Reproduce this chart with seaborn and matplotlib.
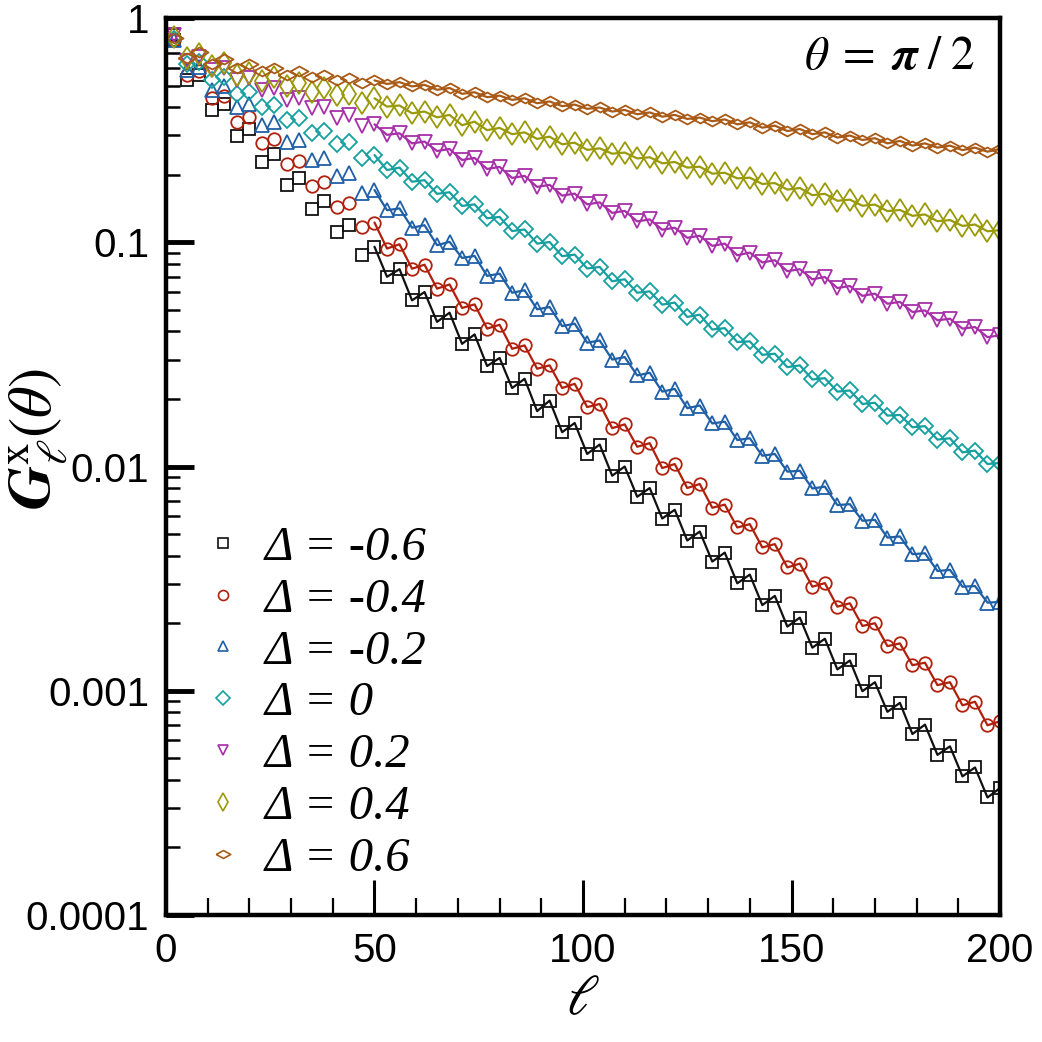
import numpy as np
import pandas as pd
import matplotlib
matplotlib.use('Agg')
import matplotlib.pyplot as plt
from matplotlib.lines import Line2D
from matplotlib.ticker import FixedLocator, MultipleLocator, LogLocator, NullFormatter
import seaborn as sns

# sampled subsystem sizes (every third site)
ell = np.arange(2, 201, 3)

# log10 of G, one list per anisotropy
log_g_m06 = [-0.10, -0.276, -0.256, -0.41, -0.384, -0.526, -0.496, -0.64, -0.605, -0.745, -0.712,
             -0.852, -0.817, -0.953, -0.921, -1.058, -1.02, -1.154, -1.12, -1.259, -1.222, -1.355,
             -1.314, -1.453, -1.411, -1.552, -1.516, -1.65, -1.609, -1.753, -1.706, -1.847, -1.806,
             -1.944, -1.902, -2.041, -2.0, -2.135, -2.096, -2.232, -2.193, -2.33, -2.29, -2.424,
             -2.384, -2.521, -2.482, -2.618, -2.577, -2.714, -2.674, -2.808, -2.768, -2.905, -2.865,
             -3.002, -2.962, -3.094, -3.054, -3.193, -3.151, -3.286, -3.248, -3.382, -3.342, -3.476,
             -3.434]
log_g_m04 = [-0.10, -0.253, -0.237, -0.358, -0.346, -0.462, -0.441, -0.559, -0.539, -0.653, -0.638,
             -0.749, -0.73, -0.842, -0.824, -0.931, -0.912, -1.028, -1.009, -1.118, -1.1, -1.207,
             -1.188, -1.293, -1.277, -1.385, -1.368, -1.475, -1.46, -1.564, -1.549, -1.65, -1.631,
             -1.735, -1.721, -1.829, -1.812, -1.912, -1.896, -2.007, -1.989, -2.096, -2.078, -2.184,
             -2.17, -2.272, -2.257, -2.361, -2.346, -2.45, -2.433, -2.536, -2.52, -2.625, -2.61,
             -2.711, -2.699, -2.801, -2.789, -2.886, -2.875, -2.975, -2.962, -3.065, -3.049, -3.154,
             -3.136]
log_g_m02 = [-0.10, -0.231, -0.22, -0.32, -0.305, -0.395, -0.384, -0.477, -0.465, -0.554, -0.544,
             -0.633, -0.623, -0.703, -0.693, -0.782, -0.767, -0.857, -0.849, -0.935, -0.924, -1.013,
             -0.998, -1.07, -1.061, -1.15, -1.14, -1.225, -1.214, -1.299, -1.289, -1.374, -1.363,
             -1.448, -1.438, -1.523, -1.512, -1.594, -1.582, -1.666, -1.654, -1.74, -1.728, -1.808,
             -1.8, -1.882, -1.874, -1.952, -1.944, -2.023, -2.019, -2.098, -2.09, -2.172, -2.168,
             -2.242, -2.238, -2.317, -2.312, -2.391, -2.387, -2.466, -2.461, -2.536, -2.533, -2.607,
             -2.604]
log_g_00 = [-0.095, -0.206, -0.194, -0.276, -0.265, -0.34, -0.328, -0.399, -0.387, -0.454, -0.447,
            -0.514, -0.506, -0.563, -0.554, -0.623, -0.611, -0.678, -0.667, -0.73, -0.723, -0.784,
            -0.777, -0.838, -0.831, -0.893, -0.887, -0.95, -0.943, -1.006, -0.999, -1.062, -1.055,
            -1.117, -1.11, -1.174, -1.165, -1.225, -1.219, -1.278, -1.269, -1.333, -1.323, -1.389,
            -1.383, -1.445, -1.442, -1.502, -1.497, -1.557, -1.549, -1.612, -1.606, -1.666, -1.661,
            -1.721, -1.716, -1.773, -1.77, -1.825, -1.82, -1.88, -1.874, -1.937, -1.929, -1.989,
            -1.984]
log_g_p02 = [-0.075, -0.19, -0.175, -0.231, -0.223, -0.276, -0.268, -0.32, -0.313, -0.365, -0.358,
             -0.402, -0.395, -0.444, -0.432, -0.48, -0.474, -0.521, -0.514, -0.559, -0.551, -0.593,
             -0.584, -0.633, -0.624, -0.673, -0.664, -0.713, -0.704, -0.753, -0.744, -0.792, -0.783,
             -0.831, -0.822, -0.869, -0.86, -0.907, -0.898, -0.944, -0.935, -0.98, -0.971, -1.016,
             -1.006, -1.058, -1.046, -1.09, -1.08, -1.129, -1.12, -1.165, -1.155, -1.204, -1.195,
             -1.239, -1.229, -1.274, -1.266, -1.311, -1.304, -1.348, -1.341, -1.385, -1.378, -1.423,
             -1.415]
log_g_p04 = [-0.085, -0.18, -0.16, -0.215, -0.2, -0.256, -0.246, -0.28, -0.265, -0.305, -0.29,
             -0.328, -0.313, -0.345, -0.34, -0.38, -0.358, -0.395, -0.39, -0.425, -0.417, -0.443,
             -0.432, -0.478, -0.462, -0.5, -0.49, -0.518, -0.51, -0.539, -0.529, -0.563, -0.556,
             -0.588, -0.581, -0.605, -0.6, -0.626, -0.621, -0.648, -0.642, -0.667, -0.663, -0.694,
             -0.69, -0.715, -0.712, -0.74, -0.736, -0.765, -0.758, -0.79, -0.784, -0.815, -0.81,
             -0.837, -0.832, -0.861, -0.856, -0.882, -0.876, -0.906, -0.901, -0.927, -0.921, -0.951,
             -0.946]
log_g_p06 = [-0.09, -0.179, -0.153, -0.206, -0.182, -0.223, -0.204, -0.238, -0.224, -0.253, -0.238,
             -0.265, -0.253, -0.275, -0.268, -0.29, -0.278, -0.294, -0.286, -0.305, -0.298, -0.32,
             -0.312, -0.338, -0.331, -0.353, -0.346, -0.365, -0.358, -0.38, -0.372, -0.393, -0.386,
             -0.405, -0.399, -0.417, -0.41, -0.429, -0.421, -0.44, -0.432, -0.45, -0.444, -0.46,
             -0.452, -0.474, -0.465, -0.489, -0.48, -0.504, -0.495, -0.518, -0.51, -0.533, -0.524,
             -0.544, -0.536, -0.559, -0.548, -0.569, -0.559, -0.578, -0.569, -0.589, -0.578, -0.596,
             -0.584]

labels = ['Δ = -0.6', 'Δ = -0.4', 'Δ = -0.2', 'Δ = 0', 'Δ = 0.2', 'Δ = 0.4', 'Δ = 0.6']
series = [log_g_m06, log_g_m04, log_g_m02, log_g_00, log_g_p02, log_g_p04, log_g_p06]

colors = ['#111111', '#b0200c', '#1f5fa6', '#16a0a0', '#a72fa8', '#9a9a08', '#a85a16']
flat_diamond = [(-1, 0), (0, 0.55), (1, 0), (0, -0.55), (-1, 0)]
markers = ['s', 'o', '^', 'D', 'v', 'd', flat_diamond]
msizes = [8.5, 9, 9.5, 8.5, 9.5, 11.5, 13]

frames = []
for lab, vals in zip(labels, series):
    assert len(vals) == len(ell), lab
    frames.append(pd.DataFrame({'ell': ell, 'G': 10 ** np.array(vals), 'delta': lab}))
df = pd.concat(frames, ignore_index=True)

sns.set_style('white')
plt.rcParams['font.family'] = ['Liberation Sans Narrow', 'Liberation Sans', 'DejaVu Sans']
plt.rcParams['mathtext.fontset'] = 'stix'
plt.rcParams['text.color'] = 'black'
plt.rcParams['axes.labelcolor'] = 'black'
plt.rcParams['xtick.color'] = 'black'
plt.rcParams['ytick.color'] = 'black'

fig = plt.figure(figsize=(10.42, 10.42), dpi=100)
ax = fig.add_axes([0.1593, 0.1219, 0.8004, 0.8608])

for lab, c, m, ms in zip(labels, colors, markers, msizes):
    sub = df[df['delta'] == lab]
    # line only drawn from l = 50 on, markers everywhere
    sns.lineplot(data=sub[sub['ell'] >= 50], x='ell', y='G', color=c, lw=1.6,
                 estimator=None, sort=False, legend=False, ax=ax)
    sns.lineplot(data=sub, x='ell', y='G', color=c, ls='', marker=m, ms=ms,
                 mfc='none', mec=c, mew=1.3, estimator=None, sort=False,
                 legend=False, ax=ax)

ax.set_yscale('log')
ax.set_xlim(0, 200)
ax.set_ylim(1e-4, 1)

ax.yaxis.set_major_locator(FixedLocator([1e-4, 1e-3, 1e-2, 1e-1, 1]))
ax.set_yticklabels(['0.0001', '0.001', '0.01', '0.1', '1'])
ax.yaxis.set_minor_locator(LogLocator(base=10, subs=np.arange(2, 10)))
ax.yaxis.set_minor_formatter(NullFormatter())
ax.xaxis.set_major_locator(MultipleLocator(50))
ax.xaxis.set_minor_locator(MultipleLocator(10))

ax.tick_params(which='both', direction='in', bottom=True, left=True, top=False, right=False,
               labelsize=29, colors='black')
ax.tick_params(axis='y', which='major', length=20, width=3.5, pad=12)
ax.tick_params(axis='y', which='minor', length=10, width=1.8)
ax.tick_params(axis='x', which='major', length=25, width=2.2, pad=12)
ax.tick_params(axis='x', which='minor', length=12, width=1.6)
for sp in ax.spines.values():
    sp.set_linewidth(3.2)
    sp.set_color('black')

ax.set_xlabel(r'$\ell$', fontsize=40)
ax.xaxis.set_label_coords(0.5, -0.095)
ax.xaxis.label.set_va('center')
ax.set_ylabel(r'$\boldsymbol{G}^{\mathrm{x}}_{\ell}(\theta)$', fontsize=44)
ax.yaxis.set_label_coords(-0.153, 0.53)
ax.yaxis.label.set_va('center')

ax.text(0.97, 0.956, r'$\theta\;=\;\boldsymbol{\pi}\;/\;2$', transform=ax.transAxes,
        ha='right', va='center', fontsize=34)

handles = [Line2D([], [], ls='', marker=m, ms=ms * 0.8, mfc='none', mec=c, mew=1.2)
           for c, m, ms in zip(colors, markers, msizes)]
leg = ax.legend(handles, labels, loc='center left', bbox_to_anchor=(0.0456, 0.236),
                frameon=False, handlelength=0.8, handletextpad=0.45, labelspacing=0.16,
                borderpad=0, borderaxespad=0,
                prop={'family': 'Liberation Serif', 'style': 'italic', 'size': 35})

fig.savefig('out.png', dpi=100, facecolor='white')
